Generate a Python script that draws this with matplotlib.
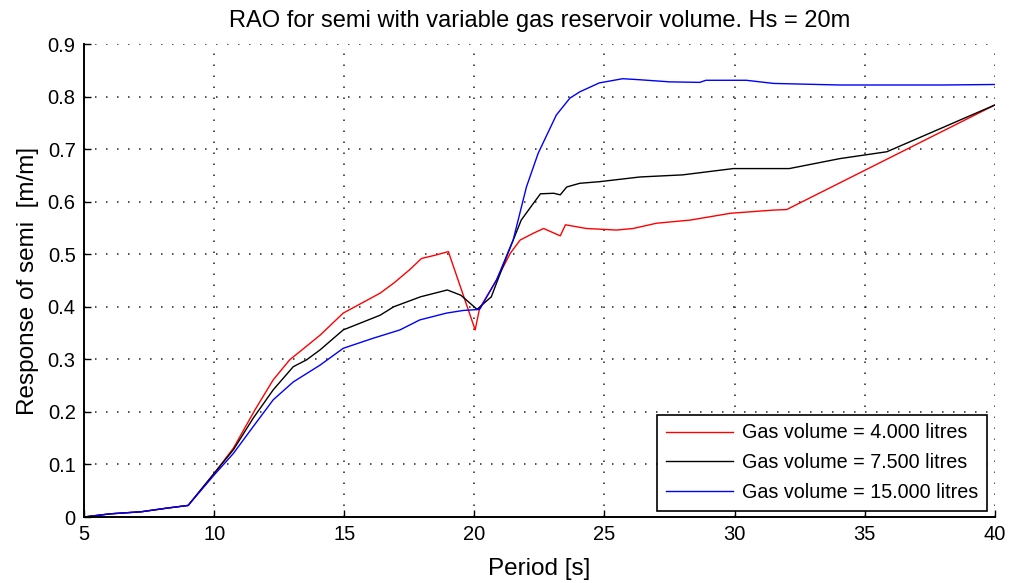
import matplotlib
matplotlib.use("Agg")
import matplotlib.pyplot as plt

# ---- data ----
red_x = [5, 6, 7.2, 8.2, 9, 10, 10.74, 11.57, 12.27, 12.9, 13.3, 14.07, 14.96, 16.38, 16.9, 17.5,
         17.97, 18.48, 19.0, 20.03, 20.2, 20.85, 21.38, 21.76, 22.27, 22.66, 23.3, 23.5, 24.3,
         25.46, 26.1, 27.0, 28.3, 29.85, 31.5, 32.0, 40]
red_y = [0, 0.006, 0.01, 0.017, 0.022, 0.083, 0.131, 0.204, 0.261, 0.299, 0.315, 0.346, 0.388,
         0.426, 0.445, 0.47, 0.492, 0.498, 0.505, 0.356, 0.397, 0.451, 0.502, 0.527, 0.54, 0.549,
         0.535, 0.556, 0.549, 0.546, 0.549, 0.559, 0.565, 0.578, 0.584, 0.585, 0.784]

black_x = [5, 6, 7.2, 8.2, 9, 10, 10.74, 11.5, 12.27, 13.04, 13.55, 14.07, 14.96, 16.38, 16.9,
           17.93, 18.96, 19.48, 19.99, 20.1, 20.65, 21.29, 21.8, 22.27, 22.54, 23.05, 23.3, 23.55,
           24.05, 24.8, 26.36, 28.0, 29.95, 32.1, 34.05, 35.85, 40]
black_y = [0, 0.006, 0.01, 0.017, 0.022, 0.083, 0.128, 0.188, 0.242, 0.286, 0.299, 0.318, 0.356,
           0.384, 0.40, 0.419, 0.432, 0.422, 0.40, 0.395, 0.419, 0.502, 0.565, 0.597, 0.615, 0.616,
           0.613, 0.628, 0.635, 0.638, 0.647, 0.651, 0.663, 0.663, 0.682, 0.695, 0.784]

blue_x = [5, 6, 7.2, 8.2, 9, 10, 10.74, 11.5, 12.27, 13.04, 14.07, 14.96, 16.1, 17.14, 17.9, 18.93,
          19.57, 20.2, 20.85, 21.49, 22.0, 22.45, 23.15, 23.67, 24.05, 24.8, 25.7, 26.36, 27.5,
          28.66, 28.9, 30.45, 31.5, 34.05, 38, 40]
blue_y = [0, 0.006, 0.01, 0.017, 0.022, 0.08, 0.121, 0.172, 0.223, 0.257, 0.289, 0.321, 0.34,
          0.356, 0.375, 0.388, 0.393, 0.395, 0.451, 0.527, 0.628, 0.692, 0.765, 0.797, 0.809,
          0.826, 0.834, 0.832, 0.828, 0.827, 0.831, 0.831, 0.825, 0.822, 0.822, 0.823]

labels = ["Gas volume = 4.000 litres", "Gas volume = 7.500 litres", "Gas volume = 15.000 litres"]
x_ticks = [5, 10, 15, 20, 25, 30, 35, 40]
y_ticks = [0, 0.1, 0.2, 0.3, 0.4, 0.5, 0.6, 0.7, 0.8, 0.9]

plt.rcParams['font.family'] = ['Liberation Sans', 'DejaVu Sans']

fig = plt.figure(figsize=(10.10, 5.83), dpi=100)
ax = fig.add_axes([0.0832, 0.1132, 0.9018, 0.8113])

ax.plot(red_x, red_y, color='red', lw=1.0, label=labels[0])
ax.plot(black_x, black_y, color='black', lw=1.0, label=labels[1])
ax.plot(blue_x, blue_y, color='blue', lw=1.0, label=labels[2])

ax.set_xlim(5, 40)
ax.set_ylim(0, 0.9)
ax.set_xticks(x_ticks)
ax.set_yticks(y_ticks)
ax.set_xticklabels([str(v) for v in x_ticks], fontsize=14.5)
ax.set_yticklabels(['0'] + [f"{v:.1f}" for v in y_ticks[1:]], fontsize=14.5)
ax.tick_params(direction='in', length=5, width=1, pad=6)
ax.grid(True, color='#222222', linestyle=(0, (1, 6.2)), linewidth=1.1)
ax.spines['top'].set_visible(False)
ax.spines['right'].set_visible(False)
ax.spines['left'].set_linewidth(1.4)
ax.spines['bottom'].set_linewidth(1.4)

ax.set_title("RAO for semi with variable gas reservoir volume. Hs = 20m", fontsize=17, pad=12)
ax.set_xlabel("Period [s]", fontsize=17.5, labelpad=10)
ax.set_ylabel("Response of semi  [m/m]", fontsize=17.5, labelpad=6)

leg = ax.legend(loc='lower right', bbox_to_anchor=(0.991, 0.0127), fontsize=14.2,
                fancybox=False, framealpha=1, edgecolor='black', handlelength=3.4,
                borderaxespad=0, labelspacing=0.55, handletextpad=0.45, borderpad=0.45)
leg.get_frame().set_linewidth(1.2)

fig.savefig("out.png", dpi=100)
